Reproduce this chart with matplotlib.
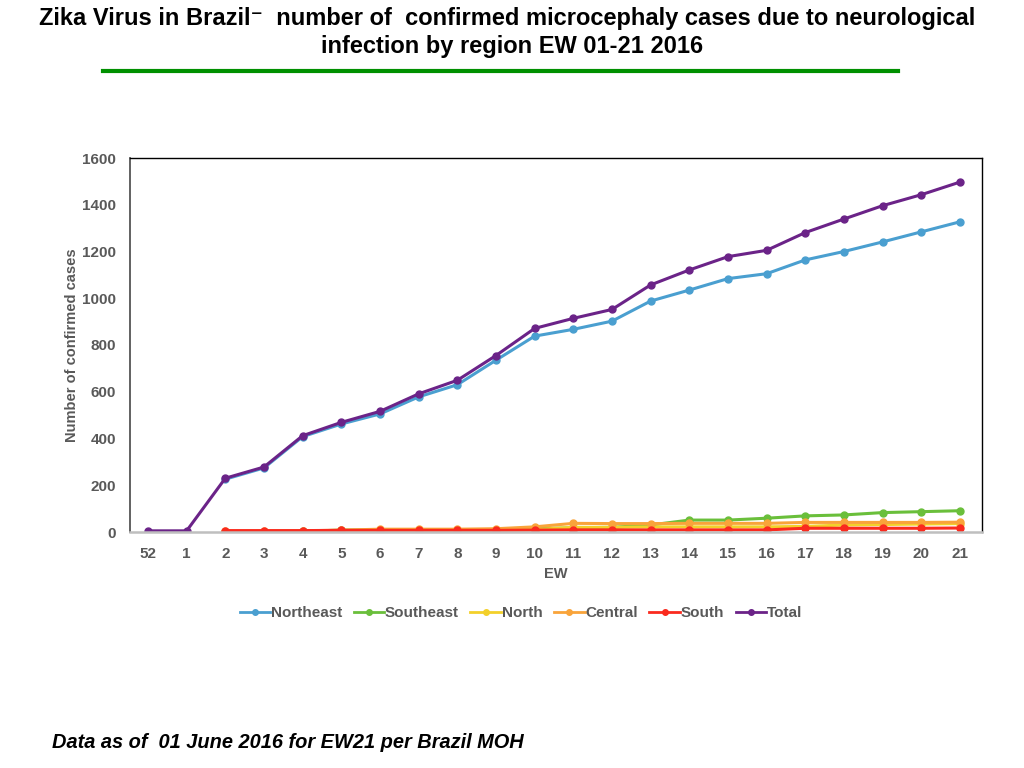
import numpy as np
import matplotlib.pyplot as plt
from matplotlib.lines import Line2D

plt.rcParams['font.family'] = ['Liberation Sans', 'DejaVu Sans']

nan = np.nan
weeks = ['52', '1', '2', '3', '4', '5', '6', '7', '8', '9', '10',
         '11', '12', '13', '14', '15', '16', '17', '18', '19', '20', '21']

northeast = [nan, nan, 226, 274, 408, 462, 505, 578, 630, 735, 838,
             867, 902, 988, 1035, 1084, 1105, 1164, 1200, 1241, 1284, 1327]
southeast = [nan, nan, 2, 2, 3, 8, 8, 8, 8, 10, 14,
             18, 20, 30, 51, 51, 59, 69, 73, 83, 87, 91]
north = [nan, nan, 2, 2, 2, 3, 4, 5, 5, 8, 10,
         20, 20, 22, 22, 22, 22, 24, 30, 32, 34, 36]
central = [nan, nan, 3, 4, 5, 8, 12, 12, 12, 14, 22,
           37, 36, 36, 37, 37, 37, 41, 41, 41, 41, 42]
south = [nan, nan, 6, 6, 6, 7, 7, 7, 7, 7, 8,
         9, 9, 9, 9, 9, 9, 16, 16, 16, 16, 17]
total = [5, 5, 230, 278, 412, 469, 516, 591, 649, 755, 871,
         914, 952, 1057, 1121, 1178, 1205, 1281, 1339, 1396, 1443, 1497]

series = [
    ('Northeast', northeast, '#4a9fd0'),
    ('Southeast', southeast, '#6abf3b'),
    ('North', north, '#f3d02a'),
    ('Central', central, '#f9a43a'),
    ('South', south, '#fa2a1e'),
    ('Total', total, '#6b2388'),
]

gray = '#595959'

fig = plt.figure(figsize=(10.24, 7.68), dpi=100)
ax = fig.add_axes([130 / 1024, 1 - 532 / 768, 852 / 1024, 374 / 768])

x = np.arange(len(weeks))
for name, vals, col in series:
    ax.plot(x, vals, color=col, lw=2.2, marker='o', ms=5, label=name)

ax.set_xlim(-0.465, len(weeks) - 0.43)
ax.set_ylim(0, 1600)
ax.set_yticks(range(0, 1601, 200))
ax.set_xticks(x)
ax.set_xticklabels(weeks)
ax.tick_params(axis='y', length=0, labelsize=11, labelcolor=gray, pad=10)
ax.tick_params(axis='x', length=0, labelsize=11, labelcolor=gray, pad=11)
for lab in ax.get_xticklabels() + ax.get_yticklabels():
    lab.set_fontweight('bold')

ax.spines['left'].set_color('#555555')
ax.spines['left'].set_linewidth(1.3)
ax.spines['bottom'].set_color('#bfbfbf')
ax.spines['bottom'].set_linewidth(1.8)
ax.spines['top'].set_color('black')
ax.spines['right'].set_color('black')
ax.spines['top'].set_linewidth(1.0)
ax.spines['right'].set_linewidth(1.0)

ax.set_xlabel('EW', fontsize=10.5, fontweight='bold', color=gray, labelpad=4)
ax.set_ylabel('Number of confirmed cases', fontsize=10.5, fontweight='bold',
              color=gray, labelpad=2)

handles = [Line2D([0], [0], color=c, lw=2, marker='o', ms=4) for _, _, c in series]
leg = fig.legend(handles, [n for n, _, _ in series], loc='center',
                 bbox_to_anchor=(521 / 1024, 1 - 613 / 768), ncol=6, frameon=False,
                 handlelength=2.0, handletextpad=0.05, columnspacing=0.75,
                 prop={'weight': 'bold', 'size': 11})
for t in leg.get_texts():
    t.set_color(gray)

fig.text(507 / 1024, 1 - 18 / 768,
         'Zika Virus in Brazil\u207b  number of  confirmed microcephaly cases due to neurological',
         ha='center', va='center', fontsize=17, fontweight='bold')
fig.text(512 / 1024, 1 - 47 / 768, 'infection by region EW 01-21 2016',
         ha='center', va='center', fontsize=17, fontweight='bold')
fig.add_artist(Line2D([103 / 1024, 898 / 1024], [1 - 71 / 768, 1 - 71 / 768],
                      color='#009000', lw=3))

fig.text(52 / 1024, 1 - 743 / 768, 'Data as of  01 June 2016 for EW21 per Brazil MOH',
         ha='left', va='center', fontsize=14.4, fontweight='bold', style='italic')

fig.savefig('out.png', dpi=100)
